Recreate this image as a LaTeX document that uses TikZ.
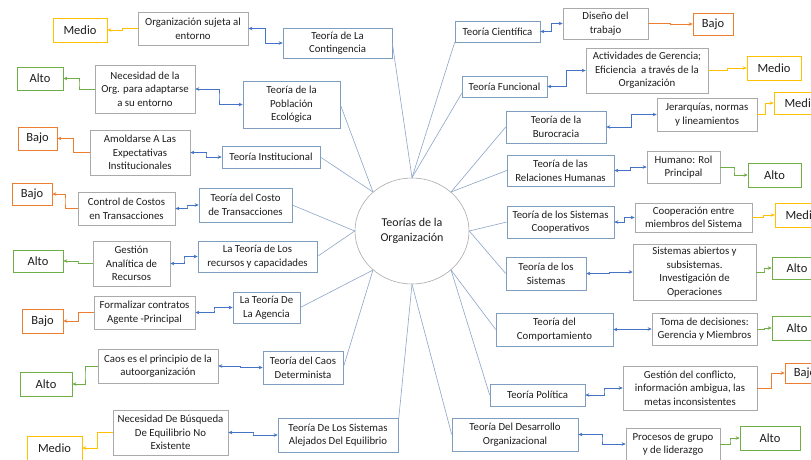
\documentclass[tikz,border=0pt]{standalone}
\usepackage{fontspec}
\setmainfont{Carlito}
\usetikzlibrary{arrows.meta,calc,shapes.geometric}
\definecolor{thb}{RGB}{127,157,190}
\definecolor{dsb}{RGB}{170,170,170}
\definecolor{cb}{RGB}{68,114,196}
\definecolor{ln}{RGB}{140,165,200}
\definecolor{cy}{RGB}{255,192,0}
\definecolor{cg}{RGB}{112,173,71}
\definecolor{co}{RGB}{237,125,49}
\definecolor{tx}{RGB}{30,30,30}
\tikzset{
 box/.style={draw, rectangle, align=center, inner sep=1pt, line width=0.6pt, text=tx, font=\fontsize{10.8}{13.6}\selectfont, fill=white},
 th/.style={box, draw=thb},
 ds/.style={box, draw=dsb},
 rt/.style={box, draw=#1, font=\fontsize{12.5}{15}\selectfont},
 sz/.style 2 args={minimum width=#1, minimum height=#2},
 elbow/.style={to path={-| ($(\tikztostart)!0.5!(\tikztotarget)$) |- (\tikztotarget)}},
 bi/.style={draw=cb, line width=0.8pt, {Stealth[length=4pt,width=3.5pt]}-{Stealth[length=4pt,width=3.5pt]}, elbow},
 ra/.style={draw=#1, line width=0.8pt, -{Stealth[length=4pt,width=3.5pt]}, elbow},
 spoke/.style={draw=ln, line width=0.6pt},
}
\begin{document}
\begin{tikzpicture}[x=1pt,y=-1pt]
\useasboundingbox (0,0) rectangle (811,459);
\clip (0,0) rectangle (811,459);
\fill[white] (0,0) rectangle (811,459);

% centre
\node[ellipse, draw=dsb, line width=0.6pt, minimum width=114, minimum height=106, inner sep=0pt, font=\fontsize{12}{15}\selectfont, text=tx, align=center] (c) at (412,231) {Teorías de la\\Organización};

% left side
\node[rt=cy, sz={54}{24}] (medio1) at (80,30) {Medio};
\node[ds, sz={110}{33}] (org) at (193,28.5) {Organización sujeta al\\entorno};
\node[th, sz={109}{30}] (cont) at (337.5,43) {Teoría de La\\Contingencia};

\node[rt=cg, sz={46}{23}] (alto1) at (40,78.5) {Alto};
\node[ds, sz={100}{48}] (nec) at (145,89) {Necesidad de la\\Org. para adaptarse\\a su entorno};
\node[th, sz={97}{47}] (pob) at (291.5,104.5) {Teoría de la\\Población\\Ecológica};

\node[rt=co, sz={39}{23}] (bajo1) at (37.5,138.5) {Bajo};
\node[ds, sz={100}{45}] (amol) at (140,152.5) {Amoldarse A Las\\Expectativas\\Institucionales};
\node[th, sz={98}{22}] (inst) at (271,157) {Teoría Institucional};

\node[rt=co, sz={40}{22}] (bajo2) at (32,194) {Bajo};
\node[ds, sz={97}{33}] (ctrl) at (126.5,208.5) {Control de Costos\\en Transacciones};
\node[th, sz={93}{34}] (costo) at (245.5,205) {Teoría del Costo\\de Transacciones};

\node[rt=cg, sz={50}{22}] (alto2) at (38,261) {Alto};
\node[ds, sz={77}{45}] (gest) at (131.5,263.5) {Gestión\\Analítica de\\Recursos};
\node[th, sz={119}{31}] (recu) at (257.5,256.5) {La Teoría de Los\\recursos y capacidades};

\node[rt=co, sz={41}{24}] (bajo3) at (42.5,321) {Bajo};
\node[ds, sz={101}{33}] (form) at (144.5,312.5) {Formalizar contratos\\Agente -Principal};
\node[th, sz={67}{31}] (agen) at (266.5,307.5) {La Teoría De\\La Agencia};

\node[rt=cg, sz={52}{24}] (alto3) at (46,384) {Alto};
\node[ds, sz={120}{34}] (caos) at (158,366) {Caos es el principio de la\\autoorganización};
\node[th, sz={80}{33}] (det) at (303,367.5) {Teoría del Caos\\Determinista};

\node[rt=cy, sz={55}{24}] (medio2) at (54.5,448) {Medio};
\node[ds, sz={115}{45}] (busq) at (170.5,432.5) {Necesidad De Búsqueda\\De Equilibrio No\\Existente};
\node[th, sz={120}{34}] (alej) at (338,435) {Teoría De Los Sistemas\\Alejados Del Equilibrio};

% right side
\node[th, sz={85}{21}] (cien) at (497.5,31.5) {Teoría Científica};
\node[ds, sz={85}{31}] (dis) at (605.5,23.5) {Diseño del\\trabajo};
\node[rt=co, sz={40}{22}] (bajo4) at (713,24) {Bajo};

\node[th, sz={85}{21}] (func) at (504.5,86.5) {Teoría Funcional};
\node[ds, sz={122}{45}] (act) at (647,70.5) {Actividades de Gerencia;\\Eficiencia\ \ a través de la\\Organización};
\node[rt=cy, sz={54}{24}] (medio3) at (774,68) {Medio};

\node[th, sz={100}{32}] (buro) at (556,127) {Teoría de la\\Burocracia};
\node[ds, sz={100}{33}] (jer) at (707,114.5) {Jerarquías, normas\\y lineamientos};
\node[rt=cy, sz={54}{22}] (medio4) at (801,103) {Medio};

\node[th, sz={107}{31}] (rel) at (560.5,170.5) {Teoría de las\\Relaciones Humanas};
\node[ds, sz={73}{32}] (hum) at (683.5,167) {Humano: Rol\\Principal};
\node[rt=cg, sz={53}{24}] (alto4) at (774.5,175) {Alto};

\node[th, sz={107}{32}] (coop) at (560.5,222) {Teoría de los Sistemas\\Cooperativos};
\node[ds, sz={117}{29}] (cope) at (693.5,217.5) {Cooperación entre\\miembros del Sistema};
\node[rt=cy, sz={54}{24}] (medio5) at (802,215) {Medio};

\node[th, sz={80}{33}] (sis) at (546,273.5) {Teoría de los\\Sistemas};
\node[ds, sz={123}{56}] (abi) at (694.5,272) {Sistemas abiertos y\\subsistemas.\\Investigación de\\Operaciones};
\node[rt=cg, sz={50}{22}] (alto5) at (797,268) {Alto};

\node[th, sz={117}{33}] (comp) at (554.5,329.5) {Teoría del\\Comportamiento};
\node[ds, sz={105}{32}] (toma) at (704.5,329) {Toma de decisiones:\\Gerencia y Miembros};
\node[rt=cg, sz={50}{24}] (alto6) at (797,328) {Alto};

\node[th, sz={95}{22}] (pol) at (537.5,395) {Teoría Política};
\node[ds, sz={134}{44}] (gcon) at (690,388) {Gestión del conflicto,\\información ambigua, las\\metas inconsistentes};
\node[rt=co, sz={40}{20}] (bajo6) at (805,373) {Bajo};

\node[th, sz={126}{33}] (des) at (515,434.5) {Teoría Del Desarrollo\\Organizacional};
\node[ds, sz={94}{32}] (proc) at (673,444) {Procesos de grupo\\y de liderazgo};
\node[rt=cg, sz={60}{24}] (alto7) at (770,438) {Alto};

% spokes
\draw[spoke] (cont.east) -- (c.north);
\draw[spoke] (cien.south west) -- (c.north);
\draw[spoke] ([yshift=4pt]func.south west) -- (c.north);
\draw[spoke] (pob.east) -- (c.135);
\draw[spoke] (inst.east) -- (c.135);
\draw[spoke] (costo.east) -- (c.180);
\draw[spoke] (recu.east) -- (c.180);
\draw[spoke] (agen.east) -- (c.225);
\draw[spoke] (det.east) -- (c.225);
\draw[spoke] ([yshift=-5pt]alej.north east) -- (c.south);
\draw[spoke] (des.west) -- (c.south);
\draw[spoke] (pol.west) -- (c.315);
\draw[spoke] (comp.west) -- (c.315);
\draw[spoke] (sis.west) -- (c.0);
\draw[spoke] (coop.west) -- (c.0);
\draw[spoke] (rel.west) -- (c.45);
\draw[spoke] (buro.west) -- (c.45);

% theory <-> description
\draw[bi] (org.east) to (cont.west);
\draw[bi] (nec.east) to (pob.west);
\draw[bi] (amol.east) to (inst.west);
\draw[bi] (ctrl.east) to (costo.west);
\draw[bi] (gest.east) to (recu.west);
\draw[bi] (form.east) to (agen.west);
\draw[bi] (caos.east) to (det.west);
\draw[bi] (busq.east) to (alej.west);
\draw[bi] (cien.east) to (dis.west);
\draw[bi] (func.east) to (act.west);
\draw[bi] (buro.east) to (jer.west);
\draw[bi] (rel.east) to (hum.west);
\draw[bi] (coop.east) to (cope.west);
\draw[bi] (sis.east) to (abi.west);
\draw[bi] (comp.east) to (toma.west);
\draw[bi] (pol.east) to (gcon.west);
\draw[bi] (des.east) to (proc.west);

% description -> rating
\draw[ra=cy] (org.west) to (medio1.east);
\draw[ra=cg] (nec.west) to (alto1.east);
\draw[ra=co] (amol.west) to (bajo1.east);
\draw[ra=co] (ctrl.west) to (bajo2.east);
\draw[ra=cg] (gest.west) to (alto2.east);
\draw[ra=co] (form.west) to (bajo3.east);
\draw[ra=cg] (caos.west) to (alto3.east);
\draw[ra=cy] (busq.west) to (medio2.east);
\draw[ra=co] (dis.east) to (bajo4.west);
\draw[ra=cy] (act.east) to (medio3.west);
\draw[ra=cy] (jer.east) to (medio4.west);
\draw[ra=cg] (hum.east) to (alto4.west);
\draw[ra=cy] (cope.east) to (medio5.west);
\draw[ra=cg] (abi.east) to (alto5.west);
\draw[ra=cg] (toma.east) to (alto6.west);
\draw[ra=co] (gcon.east) to (bajo6.west);
\draw[ra=cg] (proc.east) to (alto7.west);
\end{tikzpicture}
\end{document}
